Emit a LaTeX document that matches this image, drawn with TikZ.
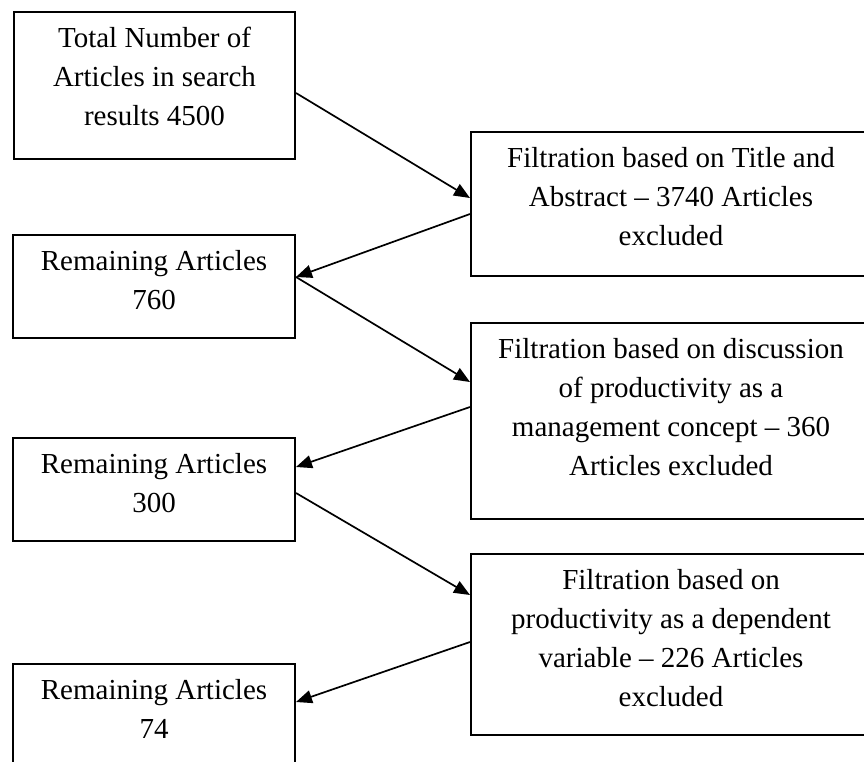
\documentclass[tikz,border=0pt]{standalone}
\usepackage{fontspec}
\setmainfont{Liberation Serif}
\usetikzlibrary{arrows.meta}
\begin{document}
\begin{tikzpicture}[x=1pt,y=-1pt,
  box/.style={draw=black, line width=2pt, rectangle, inner sep=0pt, anchor=north west},
  txt/.style={align=center, inner sep=0pt, anchor=north, font=\fontsize{29pt}{39pt}\selectfont},
  arr/.style={line width=1.7pt, -{Triangle[length=16pt,width=13pt]}}]
\useasboundingbox (0,0) rectangle (864,762);
\clip (0,0) rectangle (864,762);
% boxes
\node[box, minimum width=281pt, minimum height=147pt] (b1) at (13,11) {};
\node[box, minimum width=400pt, minimum height=144pt] (b2) at (470,131) {};
\node[box, minimum width=282pt, minimum height=103pt] (b3) at (12,234) {};
\node[box, minimum width=400pt, minimum height=196pt] (b4) at (470,322) {};
\node[box, minimum width=282pt, minimum height=103pt] (b5) at (12,437) {};
\node[box, minimum width=400pt, minimum height=181pt] (b6) at (470,553) {};
\node[box, minimum width=282pt, minimum height=140pt] (b7) at (12,663) {};
% texts
\node[txt] (t1) at ([yshift=-8.7pt]b1.north) {\strut Total Number of\\Articles in search\\results 4500};
\node[txt] (t2) at ([yshift=-8.7pt]b2.north) {\strut Filtration based on Title and\\Abstract -- 3740 Articles\\excluded};
\node[txt] (t3) at ([yshift=-8.7pt]b3.north) {\strut Remaining Articles\\760};
\node[txt] (t4) at ([yshift=-8.7pt]b4.north) {\strut Filtration based on discussion\\of productivity as a\\management concept -- 360\\Articles excluded};
\node[txt] (t5) at ([yshift=-8.7pt]b5.north) {\strut Remaining Articles\\300};
\node[txt] (t6) at ([yshift=-8.7pt]b6.north) {\strut Filtration based on\\productivity as a dependent\\variable -- 226 Articles\\excluded};
\node[txt] (t7) at ([yshift=-8.7pt]b7.north) {\strut Remaining Articles\\74};
% connectors
\draw[arr] ([yshift=-82pt]b1.north east) -- ([yshift=-67pt]b2.north west);
\draw[arr] ([yshift=-83pt]b2.north west) -- ([yshift=-43pt]b3.north east);
\draw[arr] ([yshift=-43pt]b3.north east) -- ([yshift=-60pt]b4.north west);
\draw[arr] ([yshift=-85pt]b4.north west) -- ([yshift=-30pt]b5.north east);
\draw[arr] ([yshift=-56pt]b5.north east) -- ([yshift=-42pt]b6.north west);
\draw[arr] ([yshift=-89pt]b6.north west) -- ([yshift=-39pt]b7.north east);
\end{tikzpicture}
\end{document}
